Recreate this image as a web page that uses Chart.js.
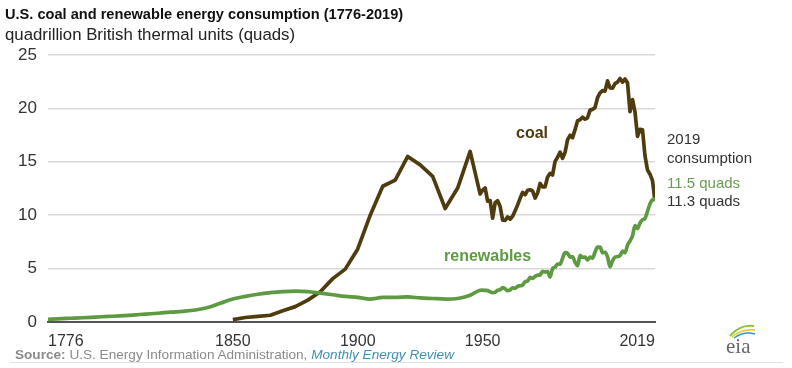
<!DOCTYPE html>
<html lang="en">
<head>
  <meta charset="UTF-8" />
  <title>U.S. coal and renewable energy consumption</title>
  <style>
    body { margin: 0; background: #fff; font-family: "Liberation Sans", Arial, sans-serif; }
    #wrap { position: relative; width: 792px; height: 368px; overflow: hidden; }
    canvas { position: absolute; left: 0; top: 0; }
    .txt { position: absolute; white-space: nowrap; line-height: 1; }
    #title { left: 5px; top: 7px; font-size: 14.6px; font-weight: bold; color: #111; }
    #subtitle { left: 5px; top: 27px; font-size: 16.8px; color: #222; }
    #coalLbl { left: 516px; top: 125px; font-size: 16px; font-weight: bold; color: #4e3c0e; }
    #renLbl { left: 444px; top: 248px; font-size: 16px; font-weight: bold; color: #5e9a42; }
    .note { left: 667px; font-size: 15px; color: #333; }
    #source { left: 15px; top: 348px; font-size: 13.6px; color: #8a8a8a; }
    #source i { color: #3f8fb0; }
    #rule { position: absolute; left: 10px; top: 362px; width: 773px; height: 1px; background: #e2e2e2; }
    #logo { position: absolute; left: 722px; top: 322px; }
  </style>
</head>
<body>
<div id="wrap">
  <canvas id="chart" width="792" height="368"></canvas>
  <div class="txt" id="title">U.S. coal and renewable energy consumption (1776-2019)</div>
  <div class="txt" id="subtitle">quadrillion British thermal units (quads)</div>
  <div class="txt" id="coalLbl">coal</div>
  <div class="txt" id="renLbl">renewables</div>
  <div class="txt note" style="top:131px">2019</div>
  <div class="txt note" style="top:150px">consumption</div>
  <div class="txt note" style="top:175px;color:#6a9c50">11.5 quads</div>
  <div class="txt note" style="top:193px">11.3 quads</div>
  <div class="txt" id="source"><b>Source:</b> U.S. Energy Information Administration, <i>Monthly Energy Review</i></div>
  <div id="rule"></div>
  <svg id="logo" width="36" height="34" viewBox="0 0 36 34">
    <path d="M8 14 Q18 2 32 4" stroke="#8cc63f" stroke-width="2" fill="none"/>
    <path d="M10 15 Q20 6 33 8" stroke="#f2c318" stroke-width="1.5" fill="none"/>
    <path d="M12 16 Q22 9 33 12" stroke="#2e9ad0" stroke-width="1.5" fill="none"/>
    <text x="4" y="31" font-family="Liberation Serif, serif" font-size="21" fill="#666">eia</text>
  </svg>
</div>

<script src="https://cdn.jsdelivr.net/npm/chart.js"></script>
<script>
  // coal: 5-year values to 1945, annual from 1949
  const coalYears = [1850,1855,1860,1865,1870,1875,1880,1885,1890,1895,1900,1905,1910,1915,1920,1925,1930,1935,1940,1945,
    1949,1950,1951,1952,1953,1954,1955,1956,1957,1958,1959,1960,1961,1962,1963,1964,1965,1966,1967,1968,1969,
    1970,1971,1972,1973,1974,1975,1976,1977,1978,1979,1980,1981,1982,1983,1984,1985,1986,1987,1988,1989,
    1990,1991,1992,1993,1994,1995,1996,1997,1998,1999,2000,2001,2002,2003,2004,2005,2006,2007,2008,2009,
    2010,2011,2012,2013,2014,2015,2016,2017,2018,2019];
  const coalValues = [0.22,0.42,0.52,0.63,1.05,1.44,2.05,2.84,4.06,4.95,6.84,10.0,12.71,13.29,15.5,14.71,13.64,10.63,12.54,15.97,
    11.98,12.35,12.55,11.31,11.37,9.72,11.17,11.35,10.82,9.53,9.52,9.84,9.62,9.91,10.41,10.96,11.58,12.14,11.91,12.33,12.38,
    12.27,11.6,12.08,12.97,12.66,12.66,13.58,13.92,13.77,15.04,15.42,15.91,15.32,15.89,17.07,17.48,17.26,18.01,18.85,18.93,
    19.17,18.99,19.12,19.84,19.91,20.09,21.0,21.45,21.66,21.62,22.58,21.91,21.9,22.32,22.47,22.8,22.45,22.75,22.39,19.69,
    20.83,19.66,17.38,18.04,17.99,15.55,14.23,13.84,13.24,11.3];

  // renewables: 5-year values to 1945, annual from 1949
  const renYears = [1776,1780,1785,1790,1795,1800,1805,1810,1815,1820,1825,1830,1835,1840,1845,1850,1855,1860,1865,1870,
    1875,1880,1885,1890,1895,1900,1905,1910,1915,1920,1925,1930,1935,1940,1945,
    1949,1950,1951,1952,1953,1954,1955,1956,1957,1958,1959,1960,1961,1962,1963,1964,1965,1966,1967,1968,1969,
    1970,1971,1972,1973,1974,1975,1976,1977,1978,1979,1980,1981,1982,1983,1984,1985,1986,1987,1988,1989,
    1990,1991,1992,1993,1994,1995,1996,1997,1998,1999,2000,2001,2002,2003,2004,2005,2006,2007,2008,2009,
    2010,2011,2012,2013,2014,2015,2016,2017,2018,2019];
  const renValues = [0.25,0.3,0.35,0.4,0.46,0.52,0.58,0.65,0.74,0.82,0.92,1.0,1.12,1.35,1.75,2.15,2.4,2.6,2.75,2.85,
    2.9,2.85,2.7,2.55,2.4,2.3,2.15,2.3,2.3,2.35,2.25,2.2,2.15,2.2,2.5,
    2.97,2.98,2.96,2.94,2.83,2.75,2.78,2.97,3.02,3.21,3.11,2.93,3.0,3.2,3.15,3.34,3.39,3.46,3.76,3.84,4.17,
    4.08,4.27,4.39,4.41,4.74,4.69,4.73,4.21,5.0,5.12,5.43,5.41,5.98,6.5,6.44,6.08,6.11,5.6,5.27,6.23,
    6.04,6.07,5.82,6.07,5.99,6.56,7.01,7.02,6.49,6.52,6.1,5.16,5.73,6.07,6.12,6.22,6.64,6.49,7.19,7.6,
    8.08,9.02,8.75,9.27,9.57,9.69,10.37,11.08,11.46,11.5];

  const xTicks = [1776, 1850, 1900, 1950, 2019];
  const yTicks = [0, 5, 10, 15, 20, 25];

  const toPoints = (xs, ys) => xs.map((x, i) => ({ x: x, y: ys[i] }));

  new Chart(document.getElementById("chart").getContext("2d"), {
    type: "line",
    data: {
      datasets: [
        { label: "renewables", data: toPoints(renYears, renValues), borderColor: "#5e9a42",
          borderWidth: 3.7, pointRadius: 0, cubicInterpolationMode: "monotone", borderJoinStyle: "round" },
        { label: "coal", data: toPoints(coalYears, coalValues), borderColor: "#4e3c0e",
          borderWidth: 3.7, pointRadius: 0, tension: 0, borderJoinStyle: "round" }
      ]
    },
    options: {
      responsive: false,
      animation: false,
      devicePixelRatio: 1,
      layout: { padding: { left: 0, top: 55, right: 137, bottom: 0 } },
      plugins: { legend: { display: false }, tooltip: { enabled: false } },
      scales: {
        x: {
          type: "linear", min: 1776, max: 2019,
          afterBuildTicks: s => { s.ticks = xTicks.map(v => ({ value: v })); },
          afterFit: s => { s.height = 46; },
          grid: { display: false, drawTicks: false },
          border: { display: true, color: "#555", width: 2 },
          ticks: { align: "inner", maxRotation: 0, autoSkip: false, padding: 10, color: "#333",
                   font: { family: "Liberation Sans", size: 16 }, callback: v => String(v) }
        },
        y: {
          min: 0, max: 25,
          afterBuildTicks: s => { s.ticks = yTicks.map(v => ({ value: v })); },
          afterFit: s => { s.width = 48; },
          grid: { color: "#d8d8d8", lineWidth: 1.5, drawTicks: false },
          border: { display: false },
          ticks: { padding: 11, color: "#333", font: { family: "Liberation Sans", size: 17 } }
        }
      }
    }
  });
</script>
</body>
</html>
